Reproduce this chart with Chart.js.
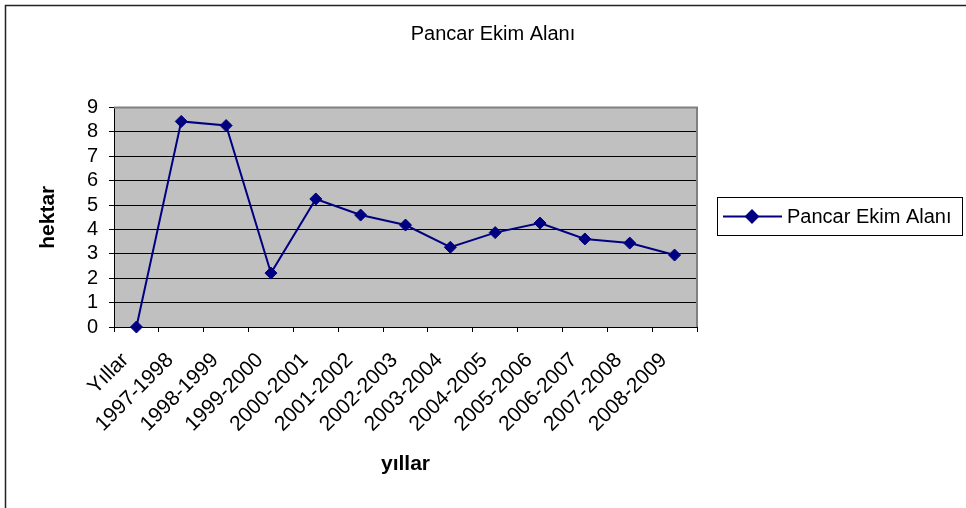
<!DOCTYPE html>
<html><head><meta charset="utf-8">
<script src="https://cdn.jsdelivr.net/npm/chart.js@4.4.1/dist/chart.umd.min.js"></script>
<style>html,body{margin:0;padding:0;background:#fff;overflow:hidden}canvas{display:block}</style>
</head><body>
<canvas id="c" width="966" height="508"></canvas>
<script>
const categories = ['Yıllar','1997-1998','1998-1999','1999-2000','2000-2001','2001-2002','2002-2003','2003-2004','2004-2005','2005-2006','2006-2007','2007-2008','2008-2009'];
const seriesLabel = 'Pancar Ekim Alanı';
const seriesValues = [0, 8.43, 8.26, 2.21, 5.25, 4.59, 4.18, 3.27, 3.87, 4.26, 3.61, 3.44, 2.95];
const yTickValues = [0,1,2,3,4,5,6,7,8,9];
const chartTitle = 'Pancar Ekim Alanı';
const xAxisTitle = 'yıllar';
const yAxisTitle = 'hektar';

const FONT = '"Liberation Sans", Arial, sans-serif';
const NAVY = '#000080';

const framePlugin = {
  id: 'frame',
  beforeDraw(chart) {
    const {ctx, chartArea: a} = chart;
    ctx.save();
    ctx.fillStyle = '#fff';
    ctx.fillRect(0, 0, chart.width, chart.height);
    ctx.strokeStyle = '#222';
    ctx.lineWidth = 1.5;
    ctx.beginPath();
    ctx.moveTo(5.5, chart.height);
    ctx.lineTo(5.5, 5.5);
    ctx.lineTo(chart.width, 5.5);
    ctx.stroke();
    ctx.fillStyle = '#c0c0c0';
    ctx.fillRect(a.left, a.top, a.right - a.left, a.bottom - a.top);
    ctx.restore();
  },
  beforeDatasetsDraw(chart) {
    const {ctx, chartArea: a} = chart;
    ctx.save();
    ctx.strokeStyle = '#808080';
    ctx.lineWidth = 2;
    ctx.beginPath();
    ctx.moveTo(a.left, a.top);
    ctx.lineTo(a.right, a.top);
    ctx.lineTo(a.right, a.bottom);
    ctx.stroke();
    ctx.restore();
  },
  afterDraw(chart) {
    const {ctx} = chart;
    const ds = chart.data.datasets[0];
    ctx.save();
    ctx.strokeStyle = '#000';
    ctx.lineWidth = 1;
    ctx.strokeRect(717.5, 197.5, 245, 38);
    ctx.strokeStyle = NAVY;
    ctx.lineWidth = 2;
    ctx.beginPath();
    ctx.moveTo(723, 216.5);
    ctx.lineTo(782, 216.5);
    ctx.stroke();
    Chart.helpers.drawPoint(ctx, {pointStyle: 'rectRot', radius: 6, borderWidth: 1}, 752, 216.5);
    ctx.fillStyle = NAVY;
    ctx.fill();
    ctx.fillStyle = '#000';
    ctx.font = '20px ' + FONT;
    ctx.textBaseline = 'middle';
    ctx.textAlign = 'left';
    ctx.fillText(ds.label, 787, 217);
    ctx.restore();
  }
};

new Chart(document.getElementById('c'), {
  type: 'line',
  data: {
    labels: categories,
    datasets: [{
      label: seriesLabel,
      data: seriesValues,
      borderColor: NAVY,
      backgroundColor: NAVY,
      borderWidth: 2,
      tension: 0,
      pointStyle: 'rectRot',
      pointRadius: 6,
      pointBorderWidth: 1,
      pointBackgroundColor: NAVY,
      pointBorderColor: NAVY,
      clip: false
    }]
  },
  options: {
    responsive: false,
    animation: false,
    devicePixelRatio: 1,
    layout: {padding: {left: 20, right: 0, top: 0, bottom: 0}},
    plugins: {
      legend: {display: false},
      tooltip: {enabled: false},
      title: {
        display: true,
        text: chartTitle,
        color: '#000',
        font: {family: FONT, size: 20, weight: 'normal', lineHeight: 1.2},
        padding: {top: 22, bottom: 61.5}
      }
    },
    scales: {
      x: {
        type: 'category',
        offset: true,
        afterFit(s) { s.height = 181; },
        grid: {display: true, drawOnChartArea: false, drawTicks: true, tickLength: 5, color: '#000', offset: true},
        border: {display: true, color: '#000', width: 1},
        ticks: {
          color: '#000',
          font: {family: FONT, size: 21},
          minRotation: 45,
          maxRotation: 45,
          autoSkip: false,
          padding: 16,
          labelOffset: -11
        },
        title: {
          display: true,
          text: xAxisTitle,
          color: '#000',
          font: {family: FONT, size: 21, weight: 'bold', lineHeight: 1.2},
          padding: {top: 0, bottom: 31}
        }
      },
      y: {
        min: 0,
        max: 9,
        afterFit(s) { s.width = 94; },
        afterBuildTicks(s) { s.ticks = yTickValues.map(v => ({value: v})); },
        grid: {
          color: (c) => (c.tick && c.tick.value === 9) ? '#808080' : '#000',
          tickColor: '#000',
          tickLength: 5,
          lineWidth: 1
        },
        border: {display: true, color: '#000', width: 1},
        ticks: {
          color: '#000',
          font: {family: FONT, size: 20},
          padding: 11,
          stepSize: 1,
          autoSkip: false
        },
        title: {
          display: true,
          text: yAxisTitle,
          color: '#000',
          font: {family: FONT, size: 21, weight: 'bold', lineHeight: 1.2},
          padding: {top: 16, bottom: 0}
        }
      },
      yRight: {
        position: 'right',
        display: true,
        min: 0,
        max: 9,
        afterFit(s) { s.width = 269; },
        grid: {display: false, drawOnChartArea: false},
        border: {display: false},
        ticks: {display: false}
      }
    }
  },
  plugins: [framePlugin]
});
</script>
</body></html>
